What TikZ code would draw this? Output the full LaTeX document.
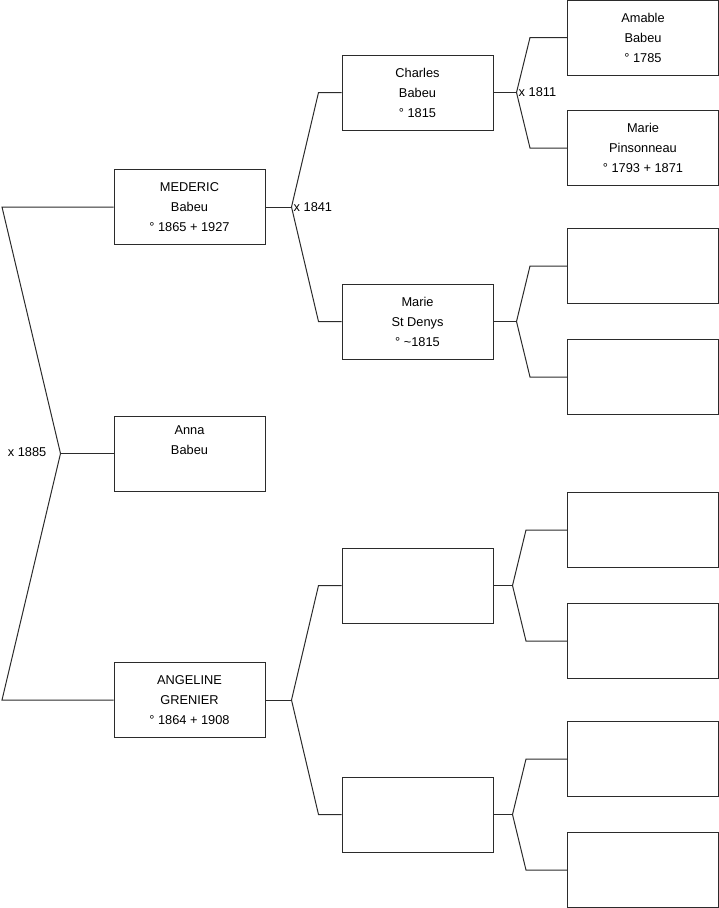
\documentclass[tikz,border=0pt]{standalone}
\usepackage{fontspec}
\setmainfont{Liberation Sans}
\usetikzlibrary{positioning}
\definecolor{frame}{HTML}{2B2B2B}

\begin{document}
\begin{tikzpicture}[
  x=1pt,y=1pt,
  node distance=38.5pt and 76pt,
  person/.style={draw=frame,line width=1pt,align=center,inner sep=0pt,
    font=\fontsize{12.8}{20}\selectfont,minimum width=151pt,minimum height=75pt},
  link/.style={draw=frame,line width=1pt},
  wed/.style={font=\fontsize{12.8}{14}\selectfont,inner sep=2pt}
]
\useasboundingbox (0,0) rectangle (719,-908);
\coordinate (edge) at (2,0);
% child and parents
\node[person] (anna) at (189.5,-453.5) {Anna\\Babeu\\\strut};
\node[person,above=170.5pt of anna] (mederic) {MEDERIC\\Babeu\\° 1865 + 1927};
\node[person,below=170.5pt of anna] (angeline) {ANGELINE\\GRENIER\\° 1864 + 1908};
% grandparents
\node[person,above right=of mederic] (charles) {Charles\\Babeu\\° 1815};
\node[person,below right=of mederic] (stdenys) {Marie\\St Denys\\° \textasciitilde1815};
\node[person,above right=of angeline] (agfather) {};
\node[person,below right=of angeline] (agmother) {};
% great-grandparents
\node[person,right=73.5pt of charles,yshift=55pt] (amable) {Amable\\Babeu\\° 1785};
\node[person,right=73.5pt of charles,yshift=-55.5pt] (pinsonneau) {Marie\\Pinsonneau\\° 1793 + 1871};
\node[person,right=73.5pt of stdenys,yshift=55.5pt] (sdfather) {};
\node[person,right=73.5pt of stdenys,yshift=-55.5pt] (sdmother) {};
\node[person,right=73.5pt of agfather,yshift=55.5pt] (agff) {};
\node[person,right=73.5pt of agfather,yshift=-55.5pt] (agfm) {};
\node[person,right=73.5pt of agmother,yshift=55.5pt] (agmf) {};
\node[person,right=73.5pt of agmother,yshift=-55.5pt] (agmm) {};

% marriages
\coordinate[left=53pt of anna.west] (wed0);
\draw[link] (anna) -- (wed0);
\draw[link] (mederic) -- (mederic.west -| edge) -- (wed0) -- (angeline.west -| edge) -- (angeline);
\node[wed,left=12pt of wed0,yshift=1.5pt] (w1885) {x 1885};

\coordinate[right=26pt of mederic.east] (wed1);
\draw[link] (mederic) -- (wed1);
\draw[link] (charles) -- ([xshift=-23pt]charles.west) -- (wed1) -- ([xshift=-23pt]stdenys.west) -- (stdenys);
\node[wed,anchor=west] (w1841) at (wed1) {x 1841};

\coordinate[right=26pt of angeline.east] (wed2);
\draw[link] (angeline) -- (wed2);
\draw[link] (agfather) -- ([xshift=-23pt]agfather.west) -- (wed2) -- ([xshift=-23pt]agmother.west) -- (agmother);

\coordinate[right=23pt of charles.east] (wed3);
\draw[link] (charles) -- (wed3);
\draw[link] (amable) -- ([xshift=-37pt]amable.west) -- (wed3) -- ([xshift=-37pt]pinsonneau.west) -- (pinsonneau);
\node[wed,anchor=west] (w1811) at (wed3) {x 1811};

\coordinate[right=23pt of stdenys.east] (wed4);
\draw[link] (stdenys) -- (wed4);
\draw[link] (sdfather) -- ([xshift=-37pt]sdfather.west) -- (wed4) -- ([xshift=-37pt]sdmother.west) -- (sdmother);

\coordinate[right=19pt of agfather.east] (wed5);
\draw[link] (agfather) -- (wed5);
\draw[link] (agff) -- ([xshift=-41pt]agff.west) -- (wed5) -- ([xshift=-41pt]agfm.west) -- (agfm);

\coordinate[right=19pt of agmother.east] (wed6);
\draw[link] (agmother) -- (wed6);
\draw[link] (agmf) -- ([xshift=-41pt]agmf.west) -- (wed6) -- ([xshift=-41pt]agmm.west) -- (agmm);
\end{tikzpicture}
\end{document}
